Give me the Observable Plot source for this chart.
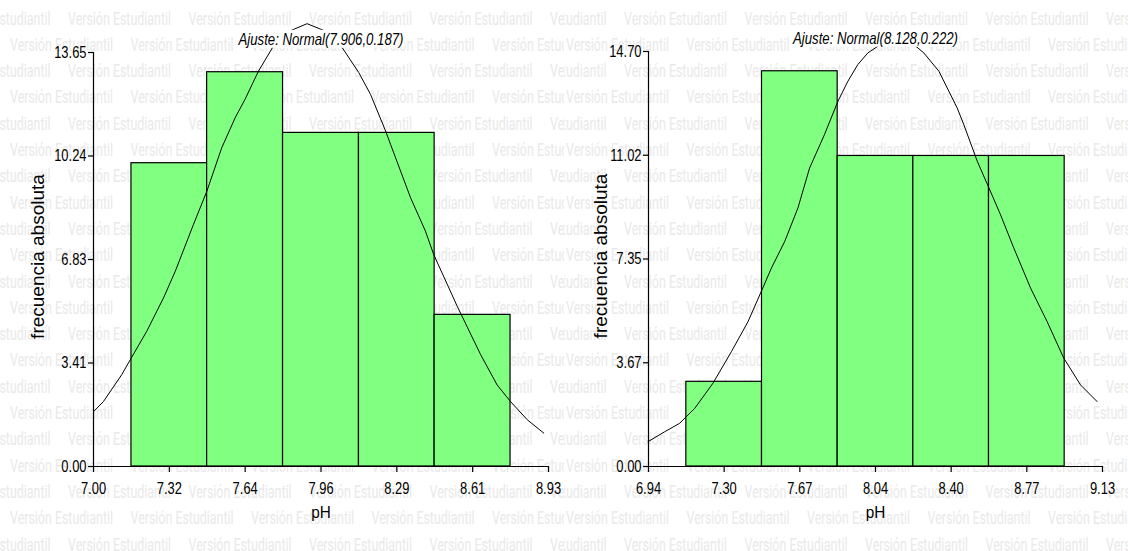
<!DOCTYPE html>
<html>
<head>
<meta charset="utf-8">
<script src="https://cdn.jsdelivr.net/npm/d3@7"></script>
<script src="https://cdn.jsdelivr.net/npm/@observablehq/plot@0.6"></script>
<style>
  html, body { margin: 0; padding: 0; background: #fff; }
  #chart { position: relative; width: 1128px; height: 551px; overflow: hidden; }
  #chart svg { position: absolute; top: 0; }
</style>
</head>
<body>
<div id="chart"></div>
<script>
// ---- pH sample 1 ----
const leftTitle = "Ajuste: Normal(7.906,0.187)";
const leftEdges = [7.161, 7.482, 7.804, 8.126, 8.447, 8.769];
const leftCounts = [10, 13, 11, 11, 5];
const leftXDomain = [7.00, 8.93];
const leftXTicks = ["7.00", "7.32", "7.64", "7.96", "8.29", "8.61", "8.93"];
const leftYDomain = [0, 13.65];
const leftYTicks = ["0.00", "3.41", "6.83", "10.24", "13.65"];
const leftFitX = [7.000, 7.042, 7.120, 7.156, 7.226, 7.297, 7.347, 7.424, 7.481, 7.544, 7.601, 7.643, 7.700, 7.764, 7.830, 7.906, 7.985, 8.055, 8.125, 8.175, 8.239, 8.260, 8.345, 8.408, 8.443, 8.543, 8.642, 8.712, 8.769, 8.840, 8.910];
const leftFitY = [1.81, 2.14, 3.03, 3.52, 4.46, 5.56, 6.44, 7.98, 9.08, 10.51, 11.50, 12.11, 13.04, 13.87, 14.35, 14.60, 14.35, 13.81, 12.99, 12.27, 11.06, 10.62, 8.86, 7.76, 6.99, 5.28, 3.69, 2.69, 2.14, 1.54, 1.10];

// ---- pH sample 2 ----
const rightTitle = "Ajuste: Normal(8.128,0.222)";
const rightEdges = [7.1225, 7.4875, 7.8525, 8.2175, 8.5825, 8.9475];
const rightCounts = [3, 14, 11, 11, 11];
const rightXDomain = [6.94, 9.13];
const rightXTicks = ["6.94", "7.30", "7.67", "8.04", "8.40", "8.77", "9.13"];
const rightYDomain = [0, 14.70];
const rightYTicks = ["0.00", "3.67", "7.35", "11.02", "14.70"];
const rightFitX = [6.938, 7.018, 7.090, 7.163, 7.251, 7.340, 7.420, 7.484, 7.533, 7.597, 7.661, 7.717, 7.789, 7.854, 7.902, 7.950, 7.998, 8.047, 8.138, 8.229, 8.268, 8.341, 8.429, 8.461, 8.526, 8.582, 8.638, 8.702, 8.783, 8.863, 8.943, 9.024, 9.104];
const rightFitY = [0.88, 1.23, 1.53, 2.06, 2.95, 4.07, 5.13, 6.20, 7.03, 7.97, 9.16, 10.57, 11.76, 12.94, 13.65, 14.24, 14.65, 14.89, 15.05, 14.89, 14.65, 14.00, 12.70, 12.11, 10.81, 9.87, 8.92, 7.74, 6.32, 5.13, 3.84, 2.89, 2.30];

const xLabel = "pH";
const yLabel = "frecuencia absoluta";
const watermarkText = "Versión Estudiantil";

const W = 1128, H = 551, PANEL = 564;
const FONT = "'Liberation Sans', Arial, Helvetica, sans-serif";

const container = document.getElementById("chart");

// Background watermark, tiled separately inside each half
function drawWatermark() {
  const svg = d3.select(container).append("svg")
    .attr("width", W).attr("height", H).style("left", "0px");
  const defs = svg.append("defs");
  const shifts = [0, -8];
  shifts.forEach((shift, p) => {
    defs.append("clipPath").attr("id", "wm-clip-" + p)
      .append("rect").attr("x", p * PANEL).attr("y", 0).attr("width", PANEL).attr("height", H);
    const g = svg.append("g").attr("clip-path", `url(#wm-clip-${p})`)
      .attr("fill", "#e9e9e9")
      .attr("font-family", "Roboto, 'Liberation Sans', sans-serif")
      .attr("font-size", 17.5);
    for (let k = 0; k <= 20; k++) {
      const y = 24.5 + 26.3 * k;
      const start = (k % 2 ? 10 : -52.5) + shift;
      for (let x = start; x < PANEL + 10; x += 120.5) {
        g.append("text")
          .attr("x", p * PANEL + x).attr("y", y)
          .attr("textLength", 103).attr("lengthAdjust", "spacingAndGlyphs")
          .text(watermarkText);
      }
    }
  });
}

function evenTicks(domain, n) {
  return d3.range(n).map(i => domain[0] + i * (domain[1] - domain[0]) / (n - 1));
}

function histogram(p) {
  const bins = p.counts.map((c, i) => ({x1: p.edges[i], x2: p.edges[i + 1], n: c}));
  const fit = p.fitX.map((x, i) => ({x, y: p.fitY[i]}));
  const xt = evenTicks(p.xDomain, p.xTicks.length);
  const yt = evenTicks(p.yDomain, p.yTicks.length);
  const xLab = new Map(xt.map((v, i) => [v, p.xTicks[i]]));
  const yLab = new Map(yt.map((v, i) => [v, p.yTicks[i]]));
  return Plot.plot({
    width: PANEL, height: H,
    marginLeft: p.margin.left, marginRight: p.margin.right,
    marginTop: p.margin.top, marginBottom: p.margin.bottom,
    style: {background: "transparent", overflow: "visible", fontFamily: FONT, color: "#000"},
    x: {domain: p.xDomain},
    y: {domain: p.yDomain},
    marks: [
      Plot.rectY(bins, {x1: "x1", x2: "x2", y: "n", fill: "#80ff80", stroke: "#000", strokeWidth: 1.2}),
      Plot.line(fit, {x: "x", y: "y", stroke: "#000", strokeWidth: 1}),
      Plot.ruleY([p.yDomain[0]], {stroke: "#000", strokeWidth: 1.2}),
      Plot.ruleX([p.xDomain[0]], {stroke: "#000", strokeWidth: 1.2}),
      Plot.axisX({ticks: xt, tickFormat: d => xLab.get(d), tickSize: 6, tickPadding: 9, fontSize: 17, label: null, strokeWidth: 1.2}),
      Plot.axisY({ticks: yt, tickFormat: d => yLab.get(d), tickSize: 5, tickPadding: 2, fontSize: 17, label: null, strokeWidth: 1.2}),
      Plot.text([p.title], {text: d => d, frameAnchor: "top", textAnchor: "middle", lineAnchor: "middle", dy: -13, fontStyle: "italic", fontSize: 16.5}),
      Plot.text([xLabel], {text: d => d, frameAnchor: "bottom", textAnchor: "middle", lineAnchor: "middle", dy: 46, fontSize: 17}),
      Plot.text([yLabel], {text: d => d, frameAnchor: "left", textAnchor: "middle", lineAnchor: "middle", dx: p.yLabelDx, dy: -3, rotate: -90, fontSize: 19})
    ]
  });
}

// Narrow the glyphs of the labels whose text is in the given list
function condense(svg, labels, ratio) {
  const set = new Set(labels);
  svg.querySelectorAll("text").forEach(t => {
    if (!set.has(t.textContent)) return;
    const w = t.getComputedTextLength();
    t.setAttribute("textLength", (w * ratio).toFixed(2));
    t.setAttribute("lengthAdjust", "spacingAndGlyphs");
  });
}

// Fit one label to a set pixel width
function fitWidth(svg, label, width) {
  svg.querySelectorAll("text").forEach(t => {
    if (t.textContent !== label) return;
    t.setAttribute("textLength", width);
    t.setAttribute("lengthAdjust", "spacingAndGlyphs");
  });
}

// White box behind the fit title, placed in the SVG's own pixel space
function titleBox(svg, title) {
  const origin = svg.getBoundingClientRect();
  svg.querySelectorAll("text").forEach(t => {
    if (t.textContent !== title) return;
    const b = t.getBoundingClientRect();
    let top = t;
    while (top.parentNode && top.parentNode !== svg) top = top.parentNode;
    const r = document.createElementNS("http://www.w3.org/2000/svg", "rect");
    r.setAttribute("x", b.left - origin.left - 1);
    r.setAttribute("y", b.top - origin.top);
    r.setAttribute("width", b.width + 2);
    r.setAttribute("height", b.height);
    r.setAttribute("fill", "#ffffff");
    svg.insertBefore(r, top);
  });
}

drawWatermark();

const panels = [
  {title: leftTitle, edges: leftEdges, counts: leftCounts, xDomain: leftXDomain, xTicks: leftXTicks,
   yDomain: leftYDomain, yTicks: leftYTicks, fitX: leftFitX, fitY: leftFitY,
   margin: {left: 93, right: 16, top: 52, bottom: 85}, yLabelDx: -56},
  {title: rightTitle, edges: rightEdges, counts: rightCounts, xDomain: rightXDomain, xTicks: rightXTicks,
   yDomain: rightYDomain, yTicks: rightYTicks, fitX: rightFitX, fitY: rightFitY,
   margin: {left: 84, right: 26, top: 51, bottom: 85}, yLabelDx: -48}
];

panels.forEach((p, i) => {
  const svg = histogram(p);
  svg.style.left = (i * PANEL) + "px";
  svg.style.position = "absolute";
  container.appendChild(svg);
  condense(svg, p.xTicks.concat(p.yTicks), 0.76);
  fitWidth(svg, p.title, 165);
  condense(svg, [xLabel], 0.9);
  titleBox(svg, p.title);
});
</script>
</body>
</html>
